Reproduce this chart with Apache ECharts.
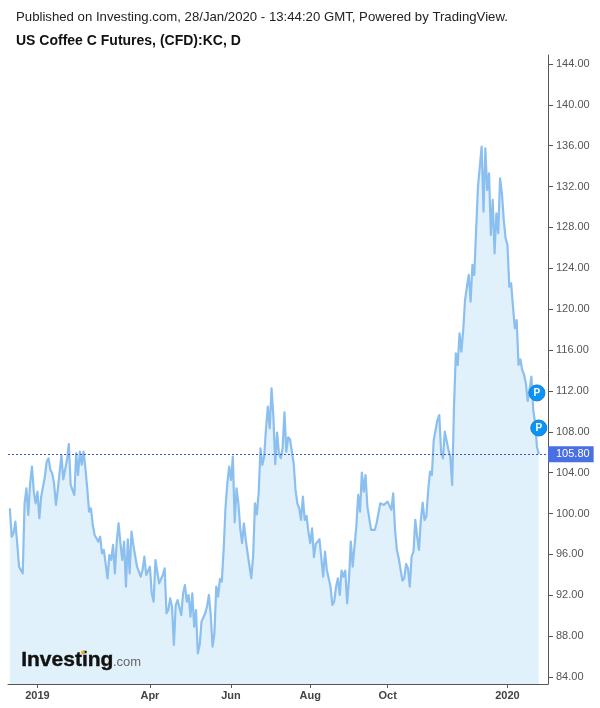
<!DOCTYPE html>
<html><head><meta charset="utf-8">
<style>html,body{margin:0;padding:0;background:#fff}#c{width:600px;height:708px}</style>
<script src="https://cdn.jsdelivr.net/npm/echarts@6/dist/echarts.min.js"></script>
</head><body><div id="c"></div>
<script>
const pricesDecToApr=[100.50,97.73,98.06,99.20,97.08,94.79,94.63,94.14,100.99,102.46,99.85,102.95,104.58,102.14,100.99,102.14,99.53,101.65,102.62,103.60,105.07,105.40,104.26,103.93,102.95,100.83,102.30,102.46,105.72,103.34,103.34,105.23,106.80,102.79,102.62,101.81,105.89,103.77,106.05,104.75,106.05,104.42,102.46,100.18,100.50,98.87,97.89,97.89,97.24,97.73,96.10,96.43,96.43,93.65,95.94,95.45,96.92,94.14,97.24,99.04,97.08,95.45,97.24,92.84,97.47,94.14,98.22,96.92,96.75,94.79,94.79,93.82,94.47,95.77,93.98,94.14,94.79,92.18,91.37,95.45,95.38,93.16,93.00,93.98,94.63,90.23,90.55,91.69,90.88,87.13,91.04,91.53,91.37,90.06,92.18,93.00,91.37,92.02,89.90,92.18,88.92,90.55,86.31];
const pricesMayToOct=[87.13,89.42,89.58,90.23,90.89,92.03,90.07,86.97,88.28,92.84,91.87,93.59,93.33,96.43,100.51,102.96,104.59,103.28,105.57,99.14,102.47,101.00,98.55,97.09,99.04,97.41,96.11,96.04,93.66,95.78,101.00,99.92,101.98,106.38,104.75,105.57,108.34,110.46,108.34,112.26,109.48,104.82,107.92,105.89,105.41,106.38,109.91,106.06,107.46,107.26,107.13,104.92,102.31,101.00,100.51,99.37,101.65,99.37,99.76,98.20,97.09,98.55,95.72,97.02,97.02,97.48,97.35,93.82,96.27,94.48,94.64,92.84,91.05,91.38,92.84,93.66,92.03,94.41,93.82,94.41,91.21,93.50,97.25,94.80,96.76,98.72,101.82,100.18,104.00,102.14,103.77,100.67,100.84,98.39,98.39,98.39,99.04,99.21,101.00,100.84,100.84,101.00,101.16,101.33,100.35,101.98,98.39,96.43,95.62,95.45,93.43,93.66,95.06,94.64,92.84,95.78,96.27,99.37,97.74,96.43];
const pricesNovToDec=[99.36,101.06,99.36,99.69,102.30,104.10,103.77,107.19,108.17,109.15,109.64,106.05,105.40,108.01,108.17,106.22,105.56,102.79,110.46,115.68,114.54,117.63,115.84,117.96,120.90,122.21,123.35,120.74,124.33,123.35,127.75,131.99,133.95,135.91,129.55,135.75,131.67,133.30,127.26,130.69,125.47,129.38,127.43,132.81,131.34,128.73,126.94,126.28,122.21,122.53,120.25,118.13,118.94];
const pricesJan=[114.54,115.09,114.05,113.60,112.74,111.01,111.01,113.39,110.13,108.83,106.54,105.80];
const monthTicks=[['2019',16],['Apr',77],['Jun',121],['Aug',164],['Oct',206],['2020',271]];
const priceTicks=[84,88,92,96,100,104,108,112,116,120,124,128,132,136,140,144];
const lastPrice=105.80;
const publishedNotes=[['P',111.8,-1],['P',108.37,0]];
const headline='Published on Investing.com, 28/Jan/2020 - 13:44:20 GMT, Powered by TradingView.';
const symbolLine='US Coffee C Futures, (CFD):KC, D';

const series=[].concat(pricesDecToApr,pricesMayToOct,pricesNovToDec,pricesJan);
const padL=[null],padR=[null,null,null,null,null];
const values=padL.concat(series,padR);
const cats=values.map(()=> '');
const tickIdx=new Set();
monthTicks.forEach(([l,i])=>{cats[i]=l;tickIdx.add(i)});
const lastIdx=series.length;

const chart=echarts.init(document.getElementById('c'),null,{renderer:'canvas'});
chart.setOption({
  animation:false,
  backgroundColor:'#fff',
  textStyle:{fontFamily:'"Liberation Sans",Arial,sans-serif'},
  title:[
    {text:headline,left:16,top:11,padding:0,textStyle:{fontSize:13.2,fontWeight:'normal',color:'#222',fontFamily:'"Liberation Sans"'}},
    {text:symbolLine,left:16,top:34,padding:0,textStyle:{fontSize:14,fontWeight:'bold',color:'#111',fontFamily:'"Liberation Sans"'}}
  ],
  grid:{left:8,right:52,top:55,bottom:24,containLabel:false},
  xAxis:{type:'category',data:cats,boundaryGap:false,
    axisLine:{lineStyle:{color:'#555',width:1}},
    axisTick:{length:4,lineStyle:{color:'#555'},interval:i=>tickIdx.has(i)},
    axisLabel:{interval:i=>tickIdx.has(i),color:'#444',fontSize:11,fontWeight:'bold',margin:6,hideOverlap:false},
    splitLine:{show:false}},
  yAxis:{type:'value',position:'right',min:83.31,max:144.88,scale:true,
    axisLine:{show:true,lineStyle:{color:'#555',width:1}},
    axisTick:{show:true,length:5,lineStyle:{color:'#555'},customValues:priceTicks},
    axisLabel:{color:'#555',fontSize:11,margin:8,customValues:priceTicks,formatter:v=>v.toFixed(2)},
    splitLine:{show:false}},
  series:[{type:'line',data:values,showSymbol:false,symbol:'none',smooth:false,connectNulls:false,
    lineStyle:{color:'#8bbff0',width:2.2,join:'round'},
    areaStyle:{color:'#e1f1fb',origin:'start',opacity:1},
    markLine:{silent:true,symbol:'none',animation:false,
      lineStyle:{color:'#3a56c5',type:[2,2],width:1},
      label:{show:true,position:'end',distance:0,formatter:()=>lastPrice.toFixed(2),color:'#fff',fontSize:11,backgroundColor:'#4a6fe3',padding:[3,4,2,8],fontFamily:'"Liberation Sans"'},
      data:[{yAxis:lastPrice}]},
    markPoint:{silent:true,animation:false,symbol:'circle',symbolSize:16,
      itemStyle:{color:'#0a94f5',borderColor:'#1c7fd0',borderWidth:1},
      label:{show:true,formatter:'{b}',color:'#fff',fontSize:10,fontWeight:'bold',fontFamily:'"Liberation Sans"'},
      data:publishedNotes.map(([n,v,o])=>({name:n,coord:[lastIdx+o,v]}))}
  }],
  graphic:[
    {type:'text',left:21,top:650,z:10,style:{text:'Investing',fontFamily:'"Liberation Sans"',fontSize:21,fontWeight:'bold',fill:'#111',stroke:'#111',lineWidth:0.4}},
    {type:'text',left:113,top:656,z:10,style:{text:'.com',fontFamily:'"Liberation Sans"',fontSize:13,fill:'#666'}},
    {type:'circle',shape:{cx:83,cy:652.5,r:2},z:11,style:{fill:'#f5a623'}}
  ]
});
</script></body></html>
